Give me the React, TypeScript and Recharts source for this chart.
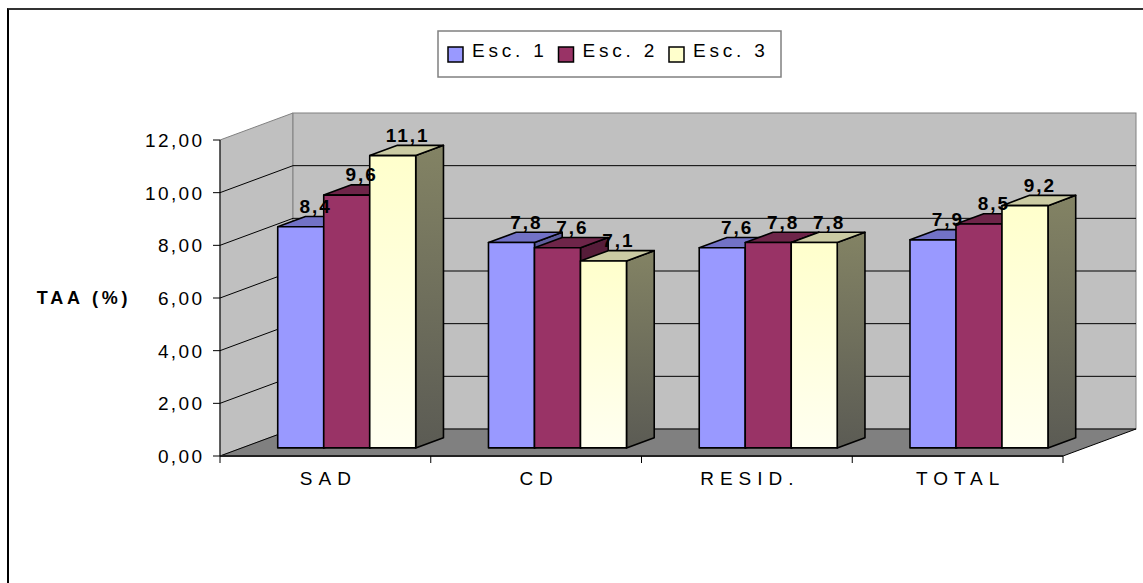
import React from "react";
import { BarChart, Bar, XAxis, YAxis, ReferenceArea, LabelList } from "recharts";

const categories = ["SAD", "CD", "RESID.", "TOTAL"];
const esc1 = [8.4, 7.8, 7.6, 7.9];
const esc2 = [9.6, 7.6, 7.8, 8.5];
const esc3 = [11.1, 7.1, 7.8, 9.2];
const yTicks = [0, 2, 4, 6, 8, 10, 12];
const seriesNames = ["Esc. 1", "Esc. 2", "Esc. 3"];
const seriesKeys = ["e1", "e2", "e3"];

const data = categories.map((cat, i) => ({
  cat,
  e1: esc1[i],
  e2: esc2[i],
  e3: esc3[i],
}));

const FONT = '"Liberation Sans", Arial, sans-serif';

// depth of the 3d box (back wall offset) and where the bars sit in it
const DX = 73;
const DY = -27;
const F0 = 0.3;
const FD = 0.38;

const palette = [
  { front: "#9999FF", top: "#7272C6", side: "#5E5E9E", swatch: "#9999FF" },
  { front: "#993366", top: "#6E2549", side: "#561C39", swatch: "#993366" },
  { front: "url(#yelFront)", top: "#CBCBA3", side: "url(#yelSide)", swatch: "#FFFFCC" },
];

const comma = (v: number, d: number) => v.toFixed(d).replace(".", ",");

const Walls = (props: any) => {
  const { x, y, width: w, height: h } = props;
  const max = yTicks[yTicks.length - 1];
  const n = categories.length;
  const grid = yTicks.filter((t) => t > 0 && t < max).map((t) => y + h * (1 - t / max));
  return (
    <g>
      <defs>
        <linearGradient id="yelFront" x1="0" y1="0" x2="0" y2="1">
          <stop offset="0" stopColor="#FFFFCC" />
          <stop offset="1" stopColor="#FFFFF0" />
        </linearGradient>
        <linearGradient id="yelSide" x1="0" y1="0" x2="0" y2="1">
          <stop offset="0" stopColor="#838364" />
          <stop offset="1" stopColor="#5B5B54" />
        </linearGradient>
      </defs>
      {/* left wall */}
      <polygon
        points={`${x},${y} ${x + DX},${y + DY} ${x + DX},${y + h + DY} ${x},${y + h}`}
        fill="#C0C0C0"
        stroke="#808080"
      />
      {/* back wall */}
      <rect x={x + DX} y={y + DY} width={w} height={h} fill="#C0C0C0" stroke="#808080" />
      {/* floor */}
      <polygon
        points={`${x},${y + h} ${x + DX},${y + h + DY} ${x + w + DX},${y + h + DY} ${x + w},${y + h}`}
        fill="#808080"
        stroke="#000"
        strokeWidth={1}
      />
      {grid.map((gy, i) => (
        <polyline
          key={i}
          points={`${x},${gy} ${x + DX},${gy + DY} ${x + w + DX},${gy + DY}`}
          fill="none"
          stroke="#000"
          strokeWidth={1}
        />
      ))}
      <line x1={x} y1={y + h} x2={x + w} y2={y + h} stroke="#222" strokeWidth={2} />
      {Array.from({ length: n + 1 }, (_, i) => (
        <line
          key={i}
          x1={x + (i * w) / n}
          y1={y + h}
          x2={x + (i * w) / n}
          y2={y + h + 7}
          stroke="#000"
        />
      ))}
    </g>
  );
};

const makeBar = (s: number) => (props: any) => {
  const { x, y, width, height } = props;
  if (width == null || height == null) return null;
  const c = palette[s];
  const fx = x + DX * F0;
  const fy = y + DY * F0;
  const fb = y + height + DY * F0;
  const bx = DX * FD;
  const by = DY * FD;
  return (
    <g stroke="#000" strokeWidth={1.6} strokeLinejoin="round">
      <polygon
        points={`${fx + width},${fy} ${fx + width + bx},${fy + by} ${fx + width + bx},${fb + by} ${fx + width},${fb}`}
        fill={c.side}
      />
      <polygon
        points={`${fx},${fy} ${fx + bx},${fy + by} ${fx + width + bx},${fy + by} ${fx + width},${fy}`}
        fill={c.top}
      />
      <rect x={fx} y={fy} width={width} height={height} fill={c.front} />
    </g>
  );
};

const renderLabel = (props: any) => {
  const { x, y, width, value } = props;
  const cx = x + width / 2 + DX * F0 + (DX * FD) / 2 + 1;
  return (
    <text
      x={cx}
      y={y + DY * F0 - 14}
      textAnchor="middle"
      fontFamily={FONT}
      fontSize={19}
      fontWeight="bold"
      letterSpacing={2}
      fill="#000"
    >
      {comma(value, 1)}
    </text>
  );
};

const YTick = (props: any) => {
  const { x, y, payload } = props;
  return (
    <text x={x - 3.5} y={y + 7} textAnchor="end" fontFamily={FONT} fontSize={19} letterSpacing={2.4} fill="#000">
      {comma(payload.value, 2)}
    </text>
  );
};

const XTick = (props: any) => {
  const { x, y, payload } = props;
  return (
    <text x={x + 3} y={y + 21} textAnchor="middle" fontFamily={FONT} fontSize={19} letterSpacing={6} fill="#000">
      {payload.value}
    </text>
  );
};

const Legend3 = () => (
  <svg width={345} height={48} style={{ position: "absolute", left: 437, top: 30 }}>
    <rect x={1} y={1} width={343} height={46} fill="#fff" stroke="#808080" strokeWidth={1.5} />
    {seriesNames.map((name, i) => (
      <g key={name} transform={`translate(${11 + i * 110.5},0)`}>
        <rect x={0} y={17} width={15} height={15} fill={palette[i].swatch} stroke="#000" strokeWidth={1.5} />
        <text x={24} y={27} fontFamily={FONT} fontSize={19} letterSpacing={3.8} fill="#000">
          {name}
        </text>
      </g>
    ))}
  </svg>
);

export default function App() {
  return (
    <div style={{ position: "absolute", left: 0, top: 0, width: 1143, height: 583, overflow: "hidden", background: "#fff" }}>
      <div
        style={{
          position: "absolute",
          left: 7,
          top: 8,
          width: 1200,
          height: 700,
          borderLeft: "2px solid #000",
          borderTop: "2px solid #333",
        }}
      />
      <div style={{ position: "absolute", left: 0, top: 0 }}>
        <BarChart
          width={1143}
          height={583}
          data={data}
          margin={{ top: 140, right: 80, left: 120, bottom: 97 }}
          barCategoryGap="17%"
          barGap={0}
        >
          <ReferenceArea y1={0} y2={12} ifOverflow="visible" shape={<Walls />} />
          <XAxis dataKey="cat" height={30} axisLine={false} tickLine={false} tick={<XTick />} interval={0} />
          <YAxis
            width={100}
            domain={[0, 12]}
            ticks={yTicks}
            tickSize={7}
            tickMargin={5}
            axisLine={{ stroke: "#000" }}
            tickLine={{ stroke: "#000" }}
            tick={<YTick />}
            label={{
              value: "TAA (%)",
              content: (p: any) => {
                const vb = p.viewBox || { x: 120, y: 140, width: 100, height: 316 };
                return (
                  <text
                    x={vb.x - 36}
                    y={vb.y + vb.height / 2 + 6}
                    textAnchor="middle"
                    fontFamily={FONT}
                    fontSize={18}
                    fontWeight="bold"
                    letterSpacing={3.8}
                    fill="#000"
                  >
                    TAA (%)
                  </text>
                );
              },
            }}
          />
          {seriesKeys.map((k, s) => (
            <Bar key={k} dataKey={k} name={seriesNames[s]} isAnimationActive={false} shape={makeBar(s)}>
              <LabelList dataKey={k} content={renderLabel} />
            </Bar>
          ))}
        </BarChart>
      </div>
      <Legend3 />
    </div>
  );
}
